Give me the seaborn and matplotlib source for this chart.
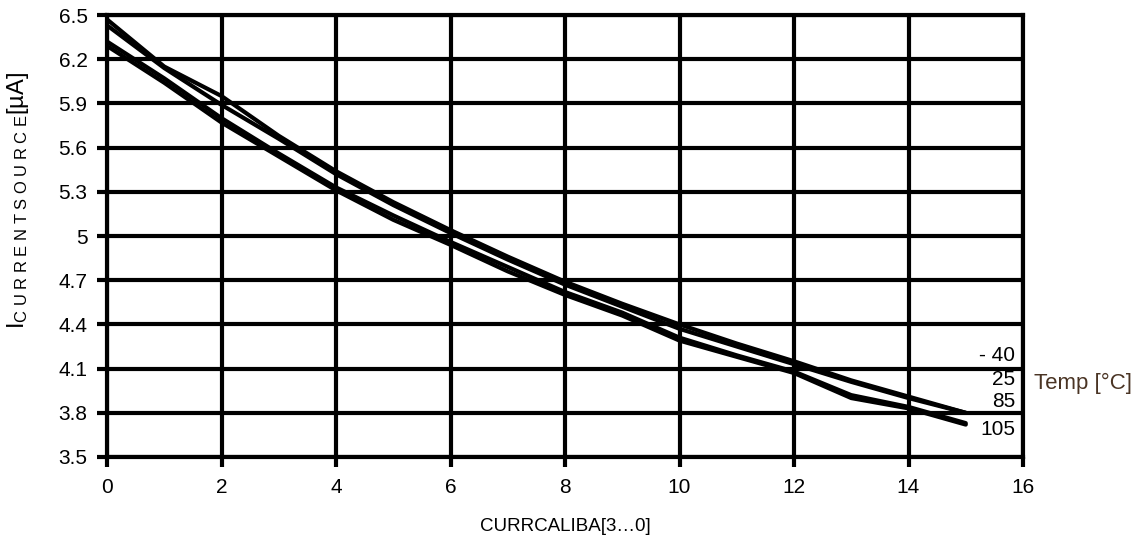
import matplotlib
matplotlib.use("Agg")
import matplotlib.pyplot as plt
import seaborn as sns
import pandas as pd

# ---- data ----
curr_calib = list(range(16))
temps = ["-40", "25", "85", "105"]
i_m40 = [6.47, 6.15, 5.95, 5.68, 5.44, 5.23, 5.04, 4.86, 4.69, 4.54, 4.40, 4.27, 4.15, 4.02, 3.91, 3.80]
i_25 = [6.43, 6.14, 5.89, 5.66, 5.42, 5.21, 5.02, 4.84, 4.67, 4.52, 4.37, 4.25, 4.13, 4.01, 3.90, 3.80]
i_85 = [6.32, 6.07, 5.80, 5.56, 5.33, 5.14, 4.96, 4.79, 4.62, 4.48, 4.31, 4.19, 4.08, 3.92, 3.84, 3.73]
i_105 = [6.29, 6.04, 5.77, 5.54, 5.31, 5.11, 4.94, 4.76, 4.60, 4.46, 4.29, 4.18, 4.07, 3.90, 3.83, 3.72]
x_ticks = [0, 2, 4, 6, 8, 10, 12, 14, 16]
y_ticks = [3.5, 3.8, 4.1, 4.4, 4.7, 5.0, 5.3, 5.6, 5.9, 6.2, 6.5]
y_tick_labels = ["3.5", "3.8", "4.1", "4.4", "4.7", "5", "5.3", "5.6", "5.9", "6.2", "6.5"]
label_y = [4.19, 4.025, 3.875, 3.69]
label_text = ["- 40", "25", "85", "105"]

df = pd.DataFrame({
    "x": curr_calib * 4,
    "y": i_m40 + i_25 + i_85 + i_105,
    "T": sum([[t] * 16 for t in temps], []),
})

sns.set_theme(style="white")
plt.rcParams["font.family"] = ["Liberation Sans", "DejaVu Sans"]
plt.rcParams["mathtext.fontset"] = "custom"
plt.rcParams["mathtext.rm"] = "Liberation Sans"
plt.rcParams["mathtext.it"] = "Liberation Sans"

fig = plt.figure(figsize=(11.44, 5.45), dpi=100)
ax = fig.add_axes([107 / 1144, 88 / 545, 916 / 1144, 442 / 545])

sns.lineplot(data=df, x="x", y="y", hue="T", palette=["black"] * 4,
             linewidth=3.0, legend=False, ax=ax, estimator=None, sort=False)

ax.set_xlim(0, 16)
ax.set_ylim(3.5, 6.5)
ax.set_xticks(x_ticks)
ax.set_yticks(y_ticks)
ax.set_yticklabels(y_tick_labels)
ax.grid(True, color="black", linewidth=3)
ax.set_axisbelow(True)
for s in ax.spines.values():
    s.set_color("black")
    s.set_linewidth(3)
ax.tick_params(axis="both", which="both", direction="out", length=7, width=3,
               color="black", labelcolor="black", bottom=True, left=True)
ax.tick_params(axis="y", labelsize=15, pad=7)
ax.tick_params(axis="x", labelsize=15, pad=8)

ax.set_xlabel("CURRCALIBA[3…0]", fontsize=13.5, color="black", labelpad=15)
ax.set_ylabel(r"I$_{\mathrm{C\ U\ R\ R\ E\ N\ T\ S\ O\ U\ R\ C\ E}}$[µA]",
              fontsize=17, color="black")
ax.yaxis.set_label_coords(-0.083, 0.58)

for ty, tt in zip(label_y, label_text):
    ax.text(15.86, ty, tt, ha="right", va="center", fontsize=15, color="black",
            clip_on=False)
ax.text(16.2, 4.0, "Temp [°C]", ha="left", va="center", fontsize=16,
        color="#4a3424", clip_on=False)

fig.savefig("out.png", dpi=100, facecolor="white")
